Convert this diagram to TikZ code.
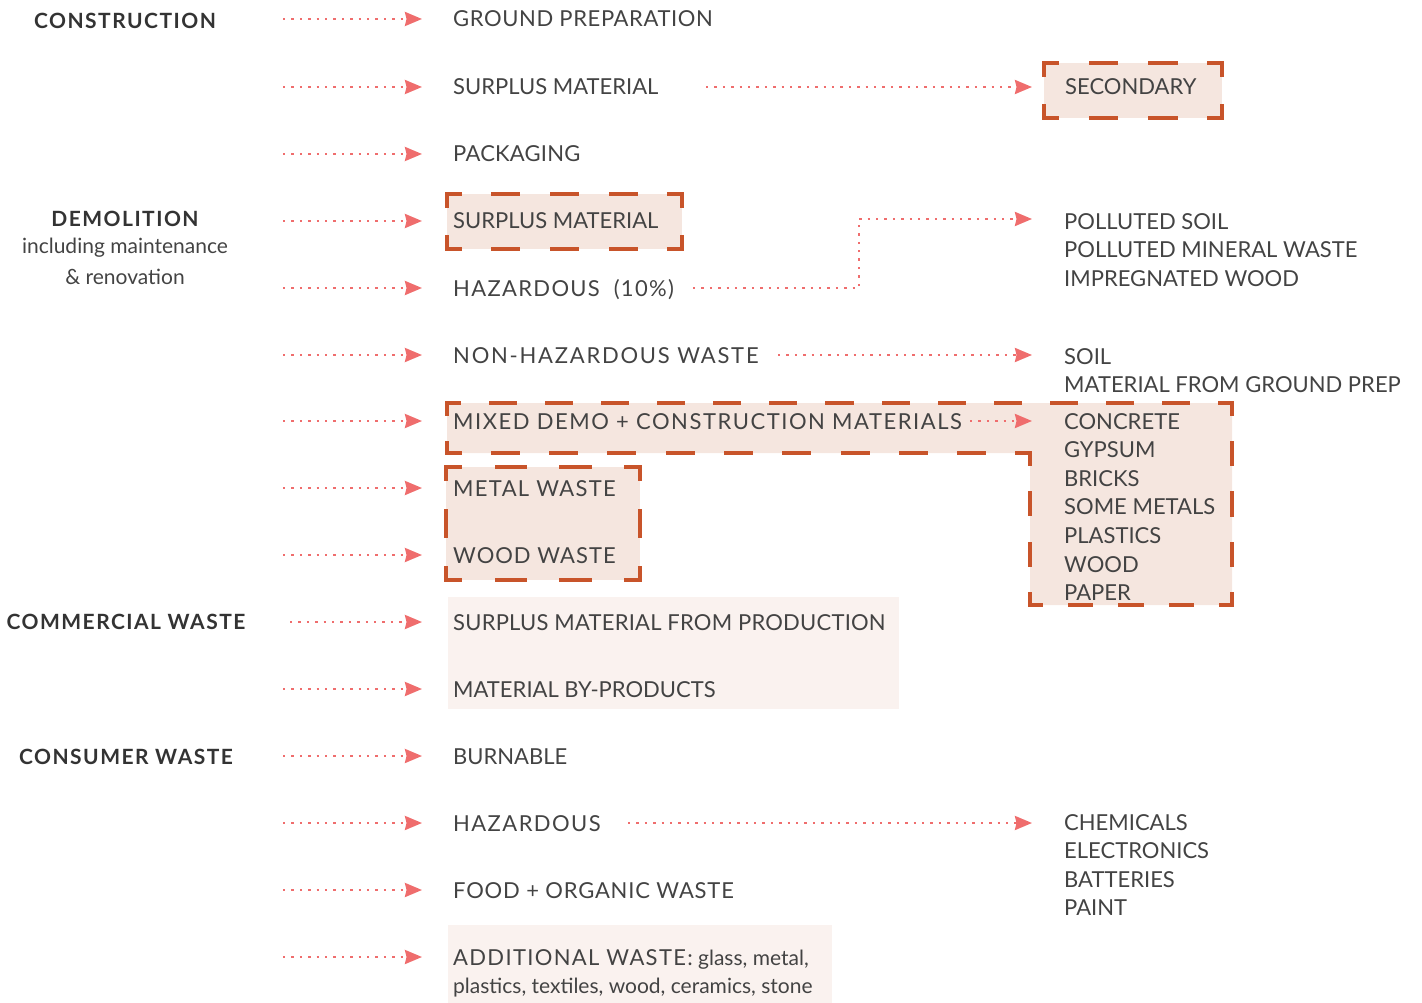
\documentclass[tikz,border=0pt]{standalone}
\usepackage{fontspec}
\setmainfont{Lato}
\usetikzlibrary{arrows.meta}
\definecolor{ink}{HTML}{434343}
\definecolor{headink}{HTML}{333333}
\definecolor{flowred}{HTML}{EF6D6D}
\definecolor{rust}{HTML}{C8542A}
\definecolor{blush}{HTML}{F5E6DF}
\definecolor{paleblush}{HTML}{FAF2EF}

% one side of a dashed outline, with a half dash at each end so that
% neighbouring sides meet in an L at every corner
\newcommand\dashside[4]{%
  \pgfmathsetmacro\dsLen{veclen(#3-#1,#4-#2)}%
  \pgfmathsetmacro\dsN{max(1,round(\dsLen/56))}%
  \pgfmathsetmacro\dsPer{\dsLen/\dsN}%
  \pgfmathsetmacro\dsOn{\dsPer/2-3.6}%
  \pgfmathsetmacro\dsOff{\dsPer-\dsOn}%
  \pgfmathsetmacro\dsPhase{\dsOn/2}%
  \draw[edge, dash pattern=on \dsOn pt off \dsOff pt, dash phase=\dsPhase pt]
    (#1,#2) -- (#3,#4);}
\newcommand\dashrect[4]{%
  \fill[blush] (#1,#2) rectangle (#3,#4);
  \dashside{#1}{#2}{#3}{#2}\dashside{#3}{#2}{#3}{#4}%
  \dashside{#3}{#4}{#1}{#4}\dashside{#1}{#4}{#1}{#2}}

\begin{document}
\begin{tikzpicture}[x=1pt,y=-1pt,
  flow/.style={flowred, line width=2.4pt, dash pattern=on 2.4pt off 6pt,
    -{Stealth[length=17pt,width=14pt,inset=1.5pt]}},
  edge/.style={draw=rust, line width=3.6pt, line cap=rect},
  item/.style={anchor=west, inner sep=0pt, text height=16pt, text depth=0pt,
    text=ink, font=\fontsize{22}{28.6}\selectfont},
  spaced/.style={font=\fontsize{22}{28.6}\selectfont\addfontfeatures{LetterSpace=#1}},
  list/.style={anchor=north west, inner sep=0pt, align=left, text=ink,
    font=\fontsize{22}{28.6}\selectfont},
  head/.style={inner sep=0pt, text=headink, align=center,
    font=\fontsize{21}{29}\selectfont\bfseries\addfontfeatures{LetterSpace=7}},
  sub/.style={inner sep=0pt, text=ink, font=\fontsize{21}{29}\selectfont},
]
\useasboundingbox (0,0) rectangle (1422,1003);

% highlighted groups
\fill[paleblush] (448,597) rectangle (899,709);
\fill[paleblush] (448,925) rectangle (832,1003);
\dashrect{1044}{63}{1222}{118}
\dashrect{447}{194}{682}{249}
\fill[blush] (447,403) -- (1232,403) -- (1232,605) -- (1030,605)
  -- (1030,453) -- (447,453) -- cycle;
\dashside{447}{403}{1232}{403}
\dashside{1232}{403}{1232}{605}
\dashside{1232}{605}{1030}{605}
\dashside{1030}{605}{1030}{453}
\dashside{1030}{453}{447}{453}
\dashside{447}{453}{447}{403}
\dashrect{446}{467}{640}{580}

% sources
\node[head] (construction) at (125,21) {CONSTRUCTION};
\node[head] (demolition) at (125,219) {DEMOLITION};
\node[sub] (incl) at (125,248) {including maintenance};
\node[sub] (reno) at (125,277) {\& renovation};
\node[head] (commercial) at (126,622) {COMMERCIAL WASTE};
\node[head] (consumer) at (126,757) {CONSUMER WASTE};

% waste streams
\node[item, spaced=2.7] (ground) at (453,19) {GROUND PREPARATION};
\node[item] (surplus) at (453,87) {SURPLUS MATERIAL};
\node[item, spaced=1] (packaging) at (453,154) {PACKAGING};
\node[item] (dsurplus) at (453,221) {SURPLUS MATERIAL};
\node[item, spaced=6] (haz10) at (453,288) {HAZARDOUS\ \ (10\%)};
\node[item, spaced=8] (nonhaz) at (453,355) {NON-HAZARDOUS WASTE};
\node[item, spaced=7] (mixed) at (453,421) {MIXED DEMO + CONSTRUCTION MATERIALS};
\node[item, spaced=6] (metal) at (453,488) {METAL WASTE};
\node[item, spaced=4.5] (wood) at (453,555) {WOOD WASTE};
\node[item, spaced=1] (prod) at (453,622) {SURPLUS MATERIAL FROM PRODUCTION};
\node[item] (byprod) at (453,689) {MATERIAL BY-PRODUCTS};
\node[item] (burn) at (453,756) {BURNABLE};
\node[item, spaced=6.5] (chaz) at (453,823) {HAZARDOUS};
\node[item, spaced=3.6] (food) at (453,890) {FOOD + ORGANIC WASTE};
\node[list, font=\fontsize{21}{28.6}\selectfont] (addl) at (453,949)
  {{\fontsize{22}{28.6}\selectfont\addfontfeatures{LetterSpace=6}ADDITIONAL WASTE:}
   glass, metal,\\
   plastics, textiles, wood, ceramics, stone};

% outcomes
\node[item] (secondary) at (1065,87) {SECONDARY};
\node[list] (polluted) at (1064,213)
  {POLLUTED SOIL\\POLLUTED MINERAL WASTE\\IMPREGNATED WOOD};
\node[list] (soil) at (1064,348) {SOIL\\MATERIAL FROM GROUND PREP};
\node[list] (concrete) at (1064,413)
  {CONCRETE\\GYPSUM\\BRICKS\\SOME METALS\\PLASTICS\\WOOD\\PAPER};
\node[list] (chem) at (1064,814)
  {CHEMICALS\\ELECTRONICS\\BATTERIES\\PAINT};

% arrow tails on the source side
\foreach \n/\y in {ground/19, surplus/87, packaging/154, dsurplus/221,
  haz10/288, nonhaz/355, mixed/421, metal/488, wood/555, byprod/689,
  burn/756, chaz/823, food/890}
  \coordinate (from-\n) at (283,\y);
\coordinate (from-prod) at (290,622);
\coordinate (from-addl) at (283,957);

\foreach \n in {ground, surplus, packaging, dsurplus, haz10, nonhaz, mixed,
  metal, wood, prod, byprod, burn, chaz, food}
  \draw[flow, shorten >=31pt] (from-\n) -- (from-\n -| \n.west);
\draw[flow, shorten >=31pt] (from-addl) -- (from-addl -| addl.west);

% onward connectors
\coordinate (out-surplus) at (706,87);
\coordinate (out-haz10) at (693,288);
\coordinate (bend) at (859,219);
\coordinate (out-nonhaz) at (778,355);
\coordinate (out-mixed) at (970,421);
\coordinate (out-chaz) at (628,823);

\draw[flow, shorten >=33pt] (out-surplus) -- (secondary.west);
\draw[flow, shorten >=32pt] (out-haz10) -- (out-haz10 -| bend) -- (bend)
  -- (bend -| polluted.west);
\draw[flow, shorten >=32pt] (out-nonhaz) -- (out-nonhaz -| soil.west);
\draw[flow, shorten >=32pt] (out-mixed) -- (out-mixed -| concrete.west);
\draw[flow, shorten >=32pt] (out-chaz) -- (out-chaz -| chem.west);
\end{tikzpicture}
\end{document}
